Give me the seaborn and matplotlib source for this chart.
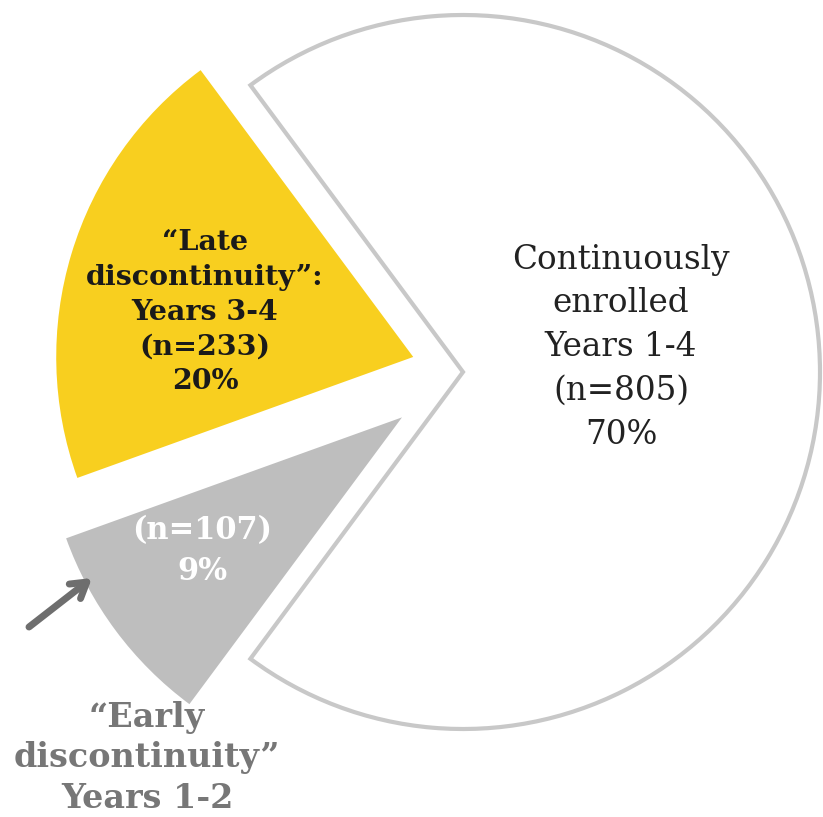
import matplotlib
matplotlib.use("Agg")
import matplotlib.pyplot as plt
import seaborn as sns

# ---- data ----
categories = ["Continuously enrolled Years 1-4",
              "Late discontinuity: Years 3-4",
              "Early discontinuity Years 1-2"]
counts = [805, 233, 107]
percent_labels = ["70%", "20%", "9%"]
colors = ["#FFFFFF", "#F8CF1F", "#BEBEBE"]

sns.set_theme(style="white")
plt.rcParams["font.family"] = ["DejaVu Serif"]

W, H = 823, 817
fig = plt.figure(figsize=(W / 100, H / 100), dpi=100)
ax = fig.add_axes([0, 0, 1, 1])

total = sum(counts)
start = -180.0 * counts[0] / total
wedges, _ = ax.pie(counts, colors=colors, startangle=start, counterclock=True,
                   center=(463, H - 372), radius=357,
                   explode=[0, 52, 76], frame=True,
                   wedgeprops=dict(linewidth=0))
wedges[0].set_edgecolor("#C8C8C8")
wedges[0].set_linewidth(3)
ax.set_xlim(0, W)
ax.set_ylim(0, H)
ax.set_aspect("equal")
ax.axis("off")

# labels
ax.text(621, H - 347,
        "Continuously\nenrolled\nYears 1-4\n(n=%d)\n%s" % (counts[0], percent_labels[0]),
        ha="center", va="center", fontsize=23.5, color="#222222", linespacing=1.47)
ax.text(205, H - 312,
        "\u201cLate\ndiscontinuity\u201d:\nYears 3-4\n(n=%d)\n%s" % (counts[1], percent_labels[1]),
        ha="center", va="center", fontsize=20.5, fontweight="bold", color="#1A1A1A",
        linespacing=1.37)
ax.text(202, H - 551,
        "(n=%d)\n%s" % (counts[2], percent_labels[2]),
        ha="center", va="center", fontsize=22, fontweight="bold", color="#FFFFFF",
        linespacing=1.45)
ax.text(147, H - 758,
        "\u201cEarly\ndiscontinuity\u201d\nYears 1-2",
        ha="center", va="center", fontsize=24, fontweight="bold", color="#777777",
        linespacing=1.3)
ax.annotate("", xy=(92, H - 578), xytext=(29, H - 627),
            arrowprops=dict(arrowstyle="->,head_length=0.9,head_width=0.55",
                            color="#6E6E6E", lw=5, shrinkA=0, shrinkB=0))

fig.savefig("out.png", dpi=100)
